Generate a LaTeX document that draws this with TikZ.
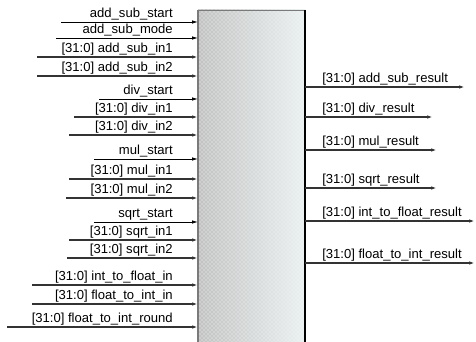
\documentclass[tikz,border=0pt]{standalone}
\usepackage{fontspec}
\setmainfont{Liberation Sans}
\usetikzlibrary{arrows.meta,patterns}
\definecolor{boxgray}{HTML}{C2C2C2}
\definecolor{boxlight}{HTML}{EAF0F0}
\definecolor{edgegray}{HTML}{7A7A7A}
\tikzset{
  fpu/.style={rectangle,inner sep=0pt,outer sep=0pt,minimum width=80.25pt,minimum height=249pt,
    left color=boxgray,right color=boxlight,
    postaction={pattern=crosshatch dots,pattern color=white!75!boxlight}},
  lbl/.style={inner sep=0pt,font=\fontsize{9.8}{11}\selectfont},
  inlbl/.style={lbl,anchor=base east},
  outlbl/.style={lbl,anchor=base west},
  sig/.style={-{Latex[length=4.5pt,width=2.6pt]},line width=0.6pt,draw=black},
  bus/.style={sig,line width=0.9pt,draw=black!80},
}
\begin{document}
\begin{tikzpicture}[x=0.75pt,y=-0.75pt]
\useasboundingbox (0,0) rectangle (476,342);
% ---- the block ----
\node[fpu] (fpu) at (251.5,176) {};
\draw[edgegray,line width=1pt] (fpu.south west) -- (fpu.north west);
\draw[edgegray,line width=0.6pt] (fpu.north west) -- (fpu.north east);
\draw[black,line width=0.8pt] (fpu.north east) -- (fpu.south east);

% ---- add/sub inputs ----
\coordinate (i1) at (61,22); \node[inlbl] (l1) at (173,18) {add\_sub\_start}; \draw[sig] (i1) -- (i1 -| fpu.west);
\coordinate (i2) at (56,38); \node[inlbl] (l2) at (173,34) {add\_sub\_mode}; \draw[sig] (i2) -- (i2 -| fpu.west);
\coordinate (i3) at (37,57); \node[inlbl] (l3) at (173,53) {[31:0] add\_sub\_in1}; \draw[bus] (i3) -- (i3 -| fpu.west);
\coordinate (i4) at (37,76); \node[inlbl] (l4) at (173,72) {[31:0] add\_sub\_in2}; \draw[bus] (i4) -- (i4 -| fpu.west);

% ---- div inputs ----
\coordinate (i5) at (99,99); \node[inlbl] (l5) at (173,95) {div\_start}; \draw[sig] (i5) -- (i5 -| fpu.west);
\coordinate (i6) at (74,117); \node[inlbl] (l6) at (173,113) {[31:0] div\_in1}; \draw[bus] (i6) -- (i6 -| fpu.west);
\coordinate (i7) at (69,135); \node[inlbl] (l7) at (173,131) {[31:0] div\_in2}; \draw[bus] (i7) -- (i7 -| fpu.west);

% ---- mul inputs ----
\coordinate (i8) at (94,159); \node[inlbl] (l8) at (173,155) {mul\_start}; \draw[sig] (i8) -- (i8 -| fpu.west);
\coordinate (i9) at (69,179); \node[inlbl] (l9) at (173,175) {[31:0] mul\_in1}; \draw[bus] (i9) -- (i9 -| fpu.west);
\coordinate (i10) at (66,198); \node[inlbl] (l10) at (173,194) {[31:0] mul\_in2}; \draw[bus] (i10) -- (i10 -| fpu.west);

% ---- sqrt inputs ----
\coordinate (i11) at (94,222); \node[inlbl] (l11) at (173,218) {sqrt\_start}; \draw[sig] (i11) -- (i11 -| fpu.west);
\coordinate (i12) at (69,240); \node[inlbl] (l12) at (173,236) {[31:0] sqrt\_in1}; \draw[bus] (i12) -- (i12 -| fpu.west);
\coordinate (i13) at (67,258); \node[inlbl] (l13) at (173,254) {[31:0] sqrt\_in2}; \draw[bus] (i13) -- (i13 -| fpu.west);

% ---- conversion inputs ----
\coordinate (i14) at (32,285); \node[inlbl] (l14) at (173,281) {[31:0] int\_to\_float\_in}; \draw[bus] (i14) -- (i14 -| fpu.west);
\coordinate (i15) at (32,304); \node[inlbl] (l15) at (173,300) {[31:0] float\_to\_int\_in}; \draw[bus] (i15) -- (i15 -| fpu.west);
\coordinate (i16) at (7,327); \node[inlbl] (l16) at (173,323) {[31:0] float\_to\_int\_round}; \draw[bus] (i16) -- (i16 -| fpu.west);

% ---- outputs ----
\coordinate (o1) at (465,87); \node[outlbl] (r1) at (322,83) {[31:0] add\_sub\_result}; \draw[bus] (o1 -| fpu.east) -- (o1);
\coordinate (o2) at (433,117); \node[outlbl] (r2) at (322,113) {[31:0] div\_result}; \draw[bus] (o2 -| fpu.east) -- (o2);
\coordinate (o3) at (437,150); \node[outlbl] (r3) at (322,146) {[31:0] mul\_result}; \draw[bus] (o3 -| fpu.east) -- (o3);
\coordinate (o4) at (437,188); \node[outlbl] (r4) at (322,184) {[31:0] sqrt\_result}; \draw[bus] (o4 -| fpu.east) -- (o4);
\coordinate (o5) at (475,221); \node[outlbl] (r5) at (322,217) {[31:0] int\_to\_float\_result}; \draw[bus] (o5 -| fpu.east) -- (o5);
\coordinate (o6) at (475,263); \node[outlbl] (r6) at (322,259) {[31:0] float\_to\_int\_result}; \draw[bus] (o6 -| fpu.east) -- (o6);
\end{tikzpicture}
\end{document}
